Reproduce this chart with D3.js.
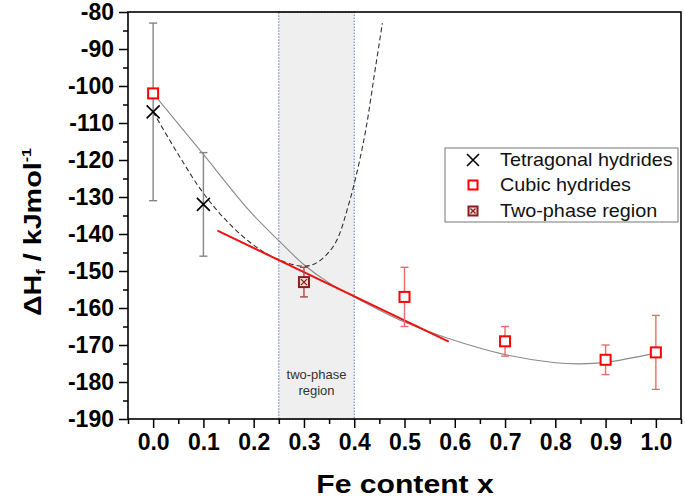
<!DOCTYPE html>
<html lang="en">
	<head>
		<meta charset="utf-8">
		<title>Formation enthalpy vs Fe content</title>
		<script type="text/javascript" src="https://cdn.jsdelivr.net/npm/d3@7"></script>
		<style type="text/css">
			body{
				margin: 0;
				background: #fff;
			}
			text{
				font-family: Arial, "Liberation Sans", sans-serif;
			}
			.major .tick text{
				font-weight: bold;
				font-size: 23px;
				fill: #000;
			}
			.tick line{
				stroke: #000;
				stroke-width: 1.5;
			}
			.axisTitle{
				font-weight: bold;
				fill: #000;
			}
			.legendText{
				font-size: 18px;
				fill: #111;
			}
		</style>
	</head>
	<body>
		<div class="chart"></div>
		<script type="text/javascript">

			var w = 685;
			var h = 501;

			// plot frame in pixels
			var plotL = 128, plotR = 681, plotT = 12, plotB = 419;

			var xTicks = [0.0, 0.1, 0.2, 0.3, 0.4, 0.5, 0.6, 0.7, 0.8, 0.9, 1.0];
			var yTicks = [-190, -180, -170, -160, -150, -140, -130, -120, -110, -100, -90, -80];

			// measured points
			var tetraX = [0.0, 0.1];
			var tetraY = [-107, -132];
			var tetraErr = [24, 14];

			var cubicX = [0.0, 0.5, 0.7, 0.9, 1.0];
			var cubicY = [-102, -157, -169, -174, -172];
			var cubicErr = [0, 8, 4, 4, 10];

			var twoX = [0.3];
			var twoY = [-153];
			var twoErr = [4];

			// grey solid fit curve
			var fitX = [0.0, 0.1, 0.19, 0.25, 0.3, 0.35, 0.4, 0.5, 0.6, 0.7, 0.8, 0.85, 0.9, 1.0];
			var fitY = [-102, -118.5, -133.5, -141.8, -148.3, -153.2, -157, -163.8, -168.8, -172.6, -174.8, -175.1, -174.7, -172.2];

			// dashed curve (tetragonal)
			var dashX = [0.0, 0.05, 0.1, 0.15, 0.2, 0.25, 0.3, 0.325, 0.36, 0.39, 0.42, 0.44, 0.456];
			var dashY = [-107, -118.5, -129, -137, -143, -147, -148.7, -147.8, -143, -131.5, -114, -97, -83];

			// red tangent line
			var tangentX = [0.128, 0.588];
			var tangentY = [-139.1, -169.1];

			var regionX = [0.25, 0.4];

			var legendNames = ["Tetragonal hydrides", "Cubic hydrides", "Two-phase region"];

			var svg = d3.select("div.chart")
						.append("svg")
						.attr("width", w)
						.attr("height", h);

			var xScale = d3.scaleLinear()
						.domain([-0.05, 1.05])
						.range([plotL, plotR]);

			var yScale = d3.scaleLinear()
						.domain([-190, -80])
						.range([plotB, plotT]);

			// shaded two-phase band
			svg.append("rect")
				.attr("x", xScale(regionX[0]))
				.attr("y", plotT)
				.attr("width", xScale(regionX[1]) - xScale(regionX[0]))
				.attr("height", plotB - plotT)
				.attr("fill", "#efefef")
				.attr("stroke", "#5b78b8")
				.attr("stroke-width", 1)
				.attr("stroke-dasharray", "1.5,1.5");

			var regionLabel = svg.append("text")
				.attr("text-anchor", "middle")
				.attr("font-size", "13px")
				.attr("fill", "#333");
			regionLabel.append("tspan")
				.attr("x", xScale((regionX[0] + regionX[1]) / 2))
				.attr("y", 379)
				.text("two-phase");
			regionLabel.append("tspan")
				.attr("x", xScale((regionX[0] + regionX[1]) / 2))
				.attr("y", 395)
				.text("region");

			// curves
			var line = d3.line()
						.x((d) => xScale(d[0]))
						.y((d) => yScale(d[1]))
						.curve(d3.curveCatmullRom.alpha(0.5));

			svg.append("path")
				.datum(fitX.map((d, i) => [d, fitY[i]]))
				.attr("d", line)
				.attr("fill", "none")
				.attr("stroke", "#8a8a8a")
				.attr("stroke-width", 1.1);

			svg.append("path")
				.datum(dashX.map((d, i) => [d, dashY[i]]))
				.attr("d", line)
				.attr("fill", "none")
				.attr("stroke", "#333")
				.attr("stroke-width", 1.1)
				.attr("stroke-dasharray", "5,3");

			svg.append("path")
				.datum(tangentX.map((d, i) => [d, tangentY[i]]))
				.attr("d", d3.line().x((d) => xScale(d[0])).y((d) => yScale(d[1])))
				.attr("fill", "none")
				.attr("stroke", "#ee1111")
				.attr("stroke-width", 2);

			// error bars
			function errorBars(xs, ys, errs, col){
				var g = svg.append("g")
							.attr("stroke", col)
							.attr("stroke-width", 1.4)
							.attr("fill", "none");
				xs.forEach(function(x, i){
					if (errs[i] <= 0) return;
					var px = xScale(x);
					var y1 = yScale(ys[i] + errs[i]);
					var y2 = yScale(ys[i] - errs[i]);
					g.append("line").attr("x1", px).attr("x2", px).attr("y1", y1).attr("y2", y2);
					g.append("line").attr("x1", px - 4).attr("x2", px + 4).attr("y1", y1).attr("y2", y1);
					g.append("line").attr("x1", px - 4).attr("x2", px + 4).attr("y1", y2).attr("y2", y2);
				});
			}

			errorBars(tetraX, tetraY, tetraErr, "#858585");
			errorBars(cubicX, cubicY, cubicErr, "#ef6b6b");
			errorBars(twoX, twoY, twoErr, "#a84848");

			// marker drawers
			function crossMark(g, px, py, s){
				g.append("path")
					.attr("d", "M" + (px - s) + "," + (py - s) + "L" + (px + s) + "," + (py + s) +
						"M" + (px - s) + "," + (py + s) + "L" + (px + s) + "," + (py - s))
					.attr("stroke", "#000")
					.attr("stroke-width", 1.6)
					.attr("fill", "none");
			}

			function squareMark(g, px, py, s){
				g.append("rect")
					.attr("x", px - s)
					.attr("y", py - s)
					.attr("width", 2 * s)
					.attr("height", 2 * s)
					.attr("fill", "#fff")
					.attr("stroke", "#ff0000")
					.attr("stroke-width", 2);
			}

			function twoMark(g, px, py, s){
				g.append("rect")
					.attr("x", px - s)
					.attr("y", py - s)
					.attr("width", 2 * s)
					.attr("height", 2 * s)
					.attr("fill", "#f3dede")
					.attr("stroke", "#8b1c1c")
					.attr("stroke-width", 2);
				g.append("path")
					.attr("d", "M" + (px - s + 2) + "," + (py - s + 2) + "L" + (px + s - 2) + "," + (py + s - 2) +
						"M" + (px - s + 2) + "," + (py + s - 2) + "L" + (px + s - 2) + "," + (py - s + 2))
					.attr("stroke", "#8b1c1c")
					.attr("stroke-width", 1.3);
			}

			var marks = svg.append("g");
			cubicX.forEach((x, i) => squareMark(marks, xScale(x), yScale(cubicY[i]), 5));
			tetraX.forEach((x, i) => crossMark(marks, xScale(x), yScale(tetraY[i]), 6.5));
			twoX.forEach((x, i) => twoMark(marks, xScale(x), yScale(twoY[i]), 5));

			// axes: major + minor ticks
			var minorX = d3.range(-0.05, 1.06, 0.05).map((d) => Math.round(d * 100) / 100)
							.filter((d) => xTicks.indexOf(d) < 0);
			var minorY = d3.range(-185, -80, 10);

			svg.append("g")
				.attr("class", "major")
				.attr("transform", "translate(0," + plotB + ")")
				.call(d3.axisBottom(xScale)
						.tickValues(xTicks)
						.tickSize(9)
						.tickSizeOuter(0)
						.tickPadding(6)
						.tickFormat(d3.format(".1f")))
				.call((g) => g.select(".domain").remove());

			svg.append("g")
				.attr("transform", "translate(0," + plotB + ")")
				.call(d3.axisBottom(xScale)
						.tickValues(minorX)
						.tickSize(5)
						.tickSizeOuter(0)
						.tickFormat(""))
				.call((g) => g.select(".domain").remove());

			svg.append("g")
				.attr("class", "major")
				.attr("transform", "translate(" + plotL + ",0)")
				.call(d3.axisLeft(yScale)
						.tickValues(yTicks)
						.tickSize(9)
						.tickSizeOuter(0)
						.tickPadding(5)
						.tickFormat((d) => String(d)))
				.call((g) => g.select(".domain").remove());

			svg.append("g")
				.attr("transform", "translate(" + plotL + ",0)")
				.call(d3.axisLeft(yScale)
						.tickValues(minorY)
						.tickSize(5)
						.tickSizeOuter(0)
						.tickFormat(""))
				.call((g) => g.select(".domain").remove());

			// frame
			svg.append("rect")
				.attr("x", plotL)
				.attr("y", plotT)
				.attr("width", plotR - plotL)
				.attr("height", plotB - plotT)
				.attr("fill", "none")
				.attr("stroke", "#000")
				.attr("stroke-width", 1.6);

			// axis titles
			svg.append("text")
				.attr("class", "axisTitle")
				.attr("font-size", "26px")
				.attr("text-anchor", "middle")
				.attr("transform", "translate(405,493) scale(1.16,1)")
				.text("Fe content x");

			var yTitle = svg.append("text")
				.attr("class", "axisTitle")
				.attr("font-size", "23px")
				.attr("text-anchor", "middle")
				.attr("transform", "translate(41,232) rotate(-90) scale(1.25,1)");
			yTitle.append("tspan").text("ΔH");
			yTitle.append("tspan").attr("font-size", "13px").attr("baseline-shift", "-4").text("f");
			yTitle.append("tspan").text(" / kJmol");
			yTitle.append("tspan").attr("font-size", "13px").attr("baseline-shift", "10").text("-1");

			// legend
			var legend = svg.append("g");
			legend.append("rect")
				.attr("x", 445)
				.attr("y", 148)
				.attr("width", 233)
				.attr("height", 74)
				.attr("fill", "#fff")
				.attr("stroke", "#777")
				.attr("stroke-width", 1);

			var rowY = [160, 185, 211];
			crossMark(legend, 473, rowY[0], 6);
			squareMark(legend, 473, rowY[1], 4.5);
			twoMark(legend, 473, rowY[2], 4.5);

			legendNames.forEach(function(name, i){
				legend.append("text")
					.attr("class", "legendText")
					.attr("dy", "0.35em")
					.attr("transform", "translate(500," + rowY[i] + ") scale(1.1,1)")
					.text(name);
			});

		</script>
	</body>
</html>
